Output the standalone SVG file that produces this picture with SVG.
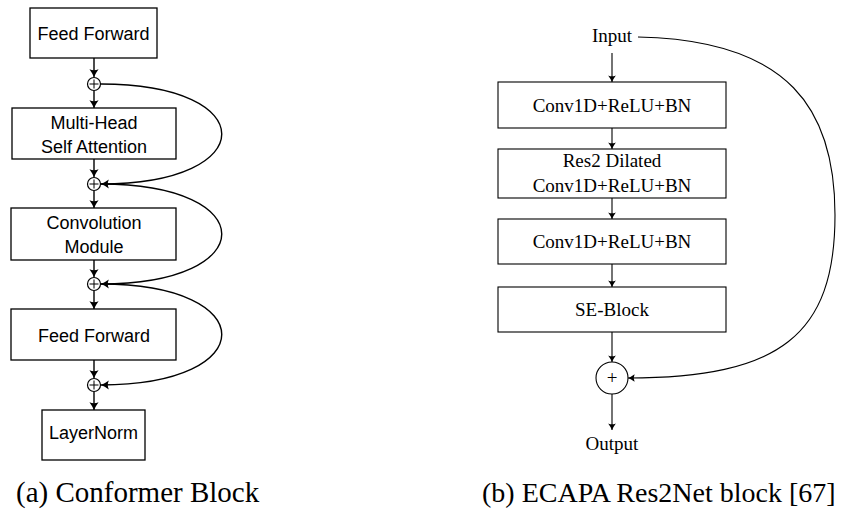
<svg xmlns="http://www.w3.org/2000/svg" width="845" height="512" viewBox="0 0 845 512">
<style>
.box{fill:#fff;stroke:#000;stroke-width:1.3}
.sans{font-family:"Liberation Sans",Arial,sans-serif;font-size:18px;fill:#000;text-anchor:middle}
.serif{font-family:"Liberation Serif","Times New Roman",serif;font-size:19px;fill:#000;text-anchor:middle}
.cap{font-family:"Liberation Serif","Times New Roman",serif;font-size:29px;fill:#000}
.la{fill:none;stroke:#000;stroke-width:1.4;marker-end:url(#ah)}
.ra{fill:none;stroke:#000;stroke-width:1.1;marker-end:url(#ah2)}
.op{fill:#fff;stroke:#000;stroke-width:1.2}
</style>
<defs>
<marker id="ah" markerUnits="userSpaceOnUse" markerWidth="12" markerHeight="12" refX="0" refY="0" viewBox="-8 -5 10 10" orient="auto">
<path d="M0,0 Q-3,-1.2 -6.5,-3.8 Q-4.8,0 -6.5,3.8 Q-3,1.2 0,0 Z" fill="#000"/>
</marker>
<marker id="ah2" markerUnits="userSpaceOnUse" markerWidth="12" markerHeight="12" refX="0" refY="0" viewBox="-8 -5 10 10" orient="auto">
<path d="M0,0 Q-2.5,-1 -5.5,-3.2 Q-4,0 -5.5,3.2 Q-2.5,1 0,0 Z" fill="#000"/>
</marker>
</defs>

<g id="connectors">
<line class="la" x1="94" y1="58" x2="94" y2="77"/>
<line class="la" x1="94" y1="91" x2="94" y2="108"/>
<line class="la" x1="94" y1="159" x2="94" y2="177"/>
<line class="la" x1="94" y1="191" x2="94" y2="208"/>
<line class="la" x1="94" y1="260" x2="94" y2="277"/>
<line class="la" x1="94" y1="291" x2="94" y2="309"/>
<line class="la" x1="94" y1="360" x2="94" y2="378"/>
<line class="la" x1="94" y1="392" x2="94" y2="410"/>
<path class="la" d="M101,84 C262,84 262,184 101,184"/>
<path class="la" d="M101,184 C262,184 262,284 101,284"/>
<path class="la" d="M101,284 C262,284 262,385 101,385"/>
<line class="ra" x1="612" y1="53" x2="612" y2="82"/>
<line class="ra" x1="612" y1="128" x2="612" y2="149"/>
<line class="ra" x1="612" y1="198" x2="612" y2="219"/>
<line class="ra" x1="612" y1="264" x2="612" y2="287"/>
<line class="ra" x1="612" y1="332" x2="612" y2="362"/>
<line class="ra" x1="612" y1="394" x2="612" y2="430"/>
<path class="ra" d="M638,37 C790,40 835,110 835,215 C835,335 780,378 628,378"/>
</g>

<g id="ff1"><rect class="box" x="30" y="8" width="127" height="50"/><text class="sans" x="93.5" y="40">Feed Forward</text></g>
<g id="add1"><circle class="op" cx="94" cy="84" r="6.5"/><path d="M94,79.5V88.5M89.5,84H98.5" stroke="#000" stroke-width="1"/></g>
<g id="mhsa"><rect class="box" x="12" y="108" width="164" height="51"/><text class="sans" x="94" y="129">Multi-Head</text><text class="sans" x="94" y="153">Self Attention</text></g>
<g id="add2"><circle class="op" cx="94" cy="184" r="6.5"/><path d="M94,179.5V188.5M89.5,184H98.5" stroke="#000" stroke-width="1"/></g>
<g id="conv"><rect class="box" x="11" y="208" width="165" height="52"/><text class="sans" x="94" y="229">Convolution</text><text class="sans" x="94" y="253">Module</text></g>
<g id="add3"><circle class="op" cx="94" cy="284" r="6.5"/><path d="M94,279.5V288.5M89.5,284H98.5" stroke="#000" stroke-width="1"/></g>
<g id="ff2"><rect class="box" x="11" y="309" width="165" height="51"/><text class="sans" x="94" y="342">Feed Forward</text></g>
<g id="add4"><circle class="op" cx="94" cy="385" r="6.5"/><path d="M94,380.5V389.5M89.5,385H98.5" stroke="#000" stroke-width="1"/></g>
<g id="ln"><rect class="box" x="42" y="410" width="103" height="50"/><text class="sans" x="93.5" y="439">LayerNorm</text></g>
<text class="cap" x="16" y="502">(a) Conformer Block</text>

<g id="input"><text class="serif" x="612" y="42">Input</text></g>
<g id="conv1"><rect class="box" x="498" y="82" width="228" height="46" style="stroke-width:1.1"/><text class="serif" x="612" y="112">Conv1D+ReLU+BN</text></g>
<g id="res2"><rect class="box" x="498" y="149" width="228" height="49" style="stroke-width:1.1"/><text class="serif" x="612" y="167">Res2 Dilated</text><text class="serif" x="612" y="192">Conv1D+ReLU+BN</text></g>
<g id="conv2"><rect class="box" x="498" y="219" width="228" height="45" style="stroke-width:1.1"/><text class="serif" x="612" y="248">Conv1D+ReLU+BN</text></g>
<g id="se"><rect class="box" x="498" y="287" width="228" height="45" style="stroke-width:1.1"/><text class="serif" x="612" y="316">SE-Block</text></g>
<g id="sum"><circle class="op" cx="612" cy="378" r="16" style="stroke-width:1.1"/><text class="serif" x="612" y="384">+</text></g>
<g id="output"><text class="serif" x="612" y="450">Output</text></g>
<text class="cap" x="482" y="502" style="font-size:28px">(b) ECAPA Res2Net block [67]</text>
</svg>
